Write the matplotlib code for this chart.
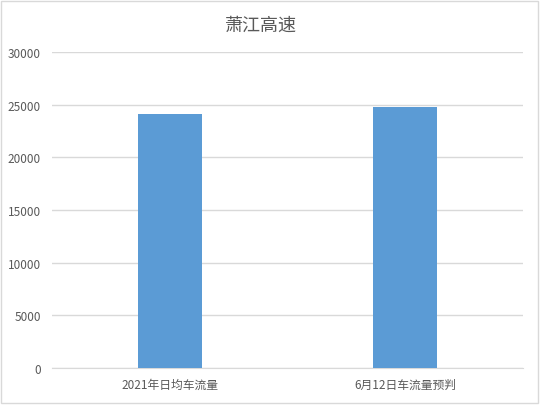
import matplotlib
matplotlib.use("Agg")
import matplotlib.pyplot as plt
from matplotlib.patches import Rectangle

plt.rcParams['font.family'] = ['Noto Sans CJK SC', 'DejaVu Sans']

# данные графика
categories = ["2021年日均车流量", "6月12日车流量预判"]
values = [24100, 24800]
yticks = [0, 5000, 10000, 15000, 20000, 25000, 30000]

fig = plt.figure(figsize=(5.4, 4.06), dpi=100)
ax = fig.add_axes([52 / 540, 1 - 369 / 406, 471 / 540, 316 / 406])

ax.bar(range(len(categories)), values, width=0.272, color="#5b9bd5", zorder=3)

ax.set_xlim(-0.5, len(categories) - 0.5)
ax.set_ylim(0, 30000)
ax.set_yticks(yticks)
ax.set_yticklabels([str(v) for v in yticks])
ax.set_xticks(range(len(categories)))
ax.set_xticklabels(categories)

ax.grid(axis="y", color="#d9d9d9", linewidth=1, zorder=0)
for side in ["top", "right", "left"]:
    ax.spines[side].set_visible(False)
ax.spines["bottom"].set_color("#d9d9d9")
ax.tick_params(axis="both", length=0, labelsize=8.5, labelcolor="#595959")
ax.tick_params(axis="y", pad=8)
ax.tick_params(axis="x", pad=7)

fig.text(261 / 540, 1 - 26 / 406, "萧江高速", ha="center", va="center",
         fontsize=13, color="#595959")

# рамка вокруг всей диаграммы
fig.patches.append(Rectangle((1 / 540, 2 / 406), 537 / 540, 402 / 406,
                             transform=fig.transFigure, fill=False,
                             edgecolor="#d9d9d9", linewidth=1))

fig.savefig("out.png", dpi=100)
